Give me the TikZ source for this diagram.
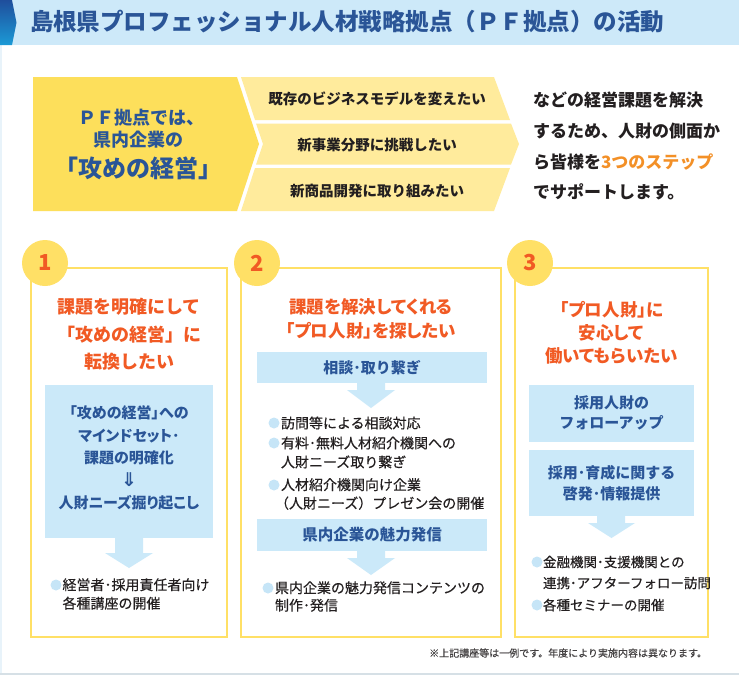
\documentclass[tikz,border=0pt]{standalone}
\usepackage{fontspec}
\setmainfont{Noto Sans CJK JP}
\newfontfamily\dejavu{DejaVu Sans}
\newfontfamily\jpmed[FakeBold=0.35]{Noto Sans CJK JP}
\newfontfamily\jppal[RawFeature=+palt]{Noto Sans CJK JP}
\definecolor{hdr}{HTML}{CDE9F9}
\definecolor{navy}{HTML}{2A5597}
\definecolor{tabtop}{HTML}{1F4E9C}
\definecolor{tabbot}{HTML}{1B9AD6}
\definecolor{ydark}{HTML}{FDDF5B}
\definecolor{ylight}{HTML}{FFEB9C}
\definecolor{ybord}{HTML}{FFE066}
\definecolor{orng}{HTML}{F15A24}
\definecolor{orng2}{HTML}{F39027}
\definecolor{lblue}{HTML}{CBE9F9}
\definecolor{bul}{HTML}{C6E5F7}
\definecolor{ink}{HTML}{231F20}
\definecolor{edge}{HTML}{E8F3FA}
\definecolor{botline}{HTML}{D6E0E6}
\tikzset{
  t/.style={inner sep=0pt, outer sep=0pt},
  lead/.style={t, text=navy, font=\fontsize{18}{18}\selectfont\bfseries},
  strip/.style={t, text=ink, font=\fontsize{14.5}{14.5}\selectfont\bfseries},
  rtext/.style={t, anchor=west, text=ink, font=\fontsize{17}{17}\selectfont\bfseries},
  card/.style={draw=ybord, line width=2pt},
  numc/.style={circle, fill=ybord, minimum size=46pt, inner sep=0pt, text=orng, font=\fontsize{22}{22}\selectfont\bfseries},
  ttl/.style={t, align=center, text=orng},
  bxt/.style={t, align=center, text=navy},
  bl/.style={t, anchor=west, align=left, text=ink},
  dot/.style={fill=bul},
  blk/.style={fill=lblue}
}
\begin{document}
\begin{tikzpicture}[x=1pt,y=-1pt]
\useasboundingbox (0,0) rectangle (739,675);
\fill[white] (0,0) rectangle (739,675);
\fill[edge] (0,45) rectangle (1.5,675);
\fill[botline] (0,673) rectangle (739,675);
% header
\fill[hdr] (0,0) rectangle (739,45);
\shade[top color=tabtop, bottom color=tabbot] (0,0) -- (12,0) -- (16.5,22.5) -- (12,45) -- (0,45) -- cycle;
\node[t, anchor=west, text=navy, font=\fontsize{23.5}{23.5}\selectfont\bfseries] (title) at (30,21.5) {島根県プロフェッショナル人材戦略拠点（ＰＦ拠点）の活動};
% top banner
\fill[ydark] (33,77) -- (237,77) -- (259,144) -- (237,211) -- (33,211) -- cycle;
\fill[ylight] (241,77) -- (494,77) -- (510,120) -- (255,120) -- cycle;
\fill[ylight] (256,123.5) -- (511,123.5) -- (519,144) -- (511,164.5) -- (256,164.5) -- (263,144) -- cycle;
\fill[ylight] (255,168) -- (510,168) -- (494,211) -- (241,211) -- cycle;
\node[lead] (pf1) at (141,118) {ＰＦ拠点では、};
\node[lead] (pf2) at (138,140) {県内企業の};
\node[lead, font=\fontsize{24}{24}\selectfont\bfseries] (pf3) at (138,168) {「攻めの経営」};
\node[strip] (s1) at (377,99) {既存のビジネスモデルを変えたい};
\node[strip] (s2) at (377,145) {新事業分野に挑戦したい};
\node[strip] (s3) at (377,191) {新商品開発に取り組みたい};
\node[rtext] (r1) at (533,100) {などの経営課題を解決};
\node[rtext] (r2) at (533,131) {するため、人財の側面か};
\node[rtext] (r3) at (533,162) {ら皆様を{\color{orng2}3つのステップ}};
\node[rtext] (r4) at (533,192) {でサポートします。};
% cards
\draw[card] (31,268) rectangle (227,637);
\draw[card] (241,268) rectangle (501,637);
\draw[card] (515,268) rectangle (708,637);
\node[numc] (n1) at (45,263) {1};
\node[numc] (n2) at (257,263) {2};
\node[numc] (n3) at (530,263) {3};
% card 1
\node[ttl, font=\fontsize{18}{27.5}\selectfont\bfseries] (t1) at (129,334.5) {課題を明確にして\\「攻めの経営」に\\転換したい};
\fill[blk] (45,385) rectangle (213,538);
\fill[blk] (115,537.5) -- (143,537.5) -- (143,553) -- (153,553) -- (129,568) -- (105,553) -- (115,553) -- cycle;
\node[bxt, font=\jppal\fontsize{15}{22.5}\selectfont\bfseries] (b1) at (129,458) {「攻めの経営」への\\マインドセット･\\課題の明確化\\{\dejavu\bfseries\fontsize{19}{19}\selectfont ⇓}\\人財ニーズ掘り起こし};
\fill[dot] (56,585) circle (5.5);
\node[bl, font=\jpmed\fontsize{14}{18.5}\selectfont] (c1a) at (62.5,594) {経営者･採用責任者向け\\各種講座の開催};
% card 2
\node[ttl, font=\jppal\fontsize{17.5}{24}\selectfont\bfseries] (t2) at (371,319) {課題を解決してくれる\\「プロ人財」を探したい};
\fill[blk] (257,352) rectangle (487,383);
\fill[blk] (357,382.5) -- (385,382.5) -- (385,390) -- (395,390) -- (371,408) -- (347,390) -- (357,390) -- cycle;
\node[bxt, font=\fontsize{15}{15}\selectfont\bfseries] (b2) at (372,367.5) {相談･取り繋ぎ};
\fill[dot] (274,423) circle (5.5);
\fill[dot] (274,443) circle (5.5);
\fill[dot] (274,485) circle (5.5);
\node[bl, font=\jpmed\fontsize{14}{19}\selectfont] (c2a) at (281,423) {訪問等による相談対応};
\node[bl, font=\jpmed\fontsize{14}{19}\selectfont] (c2b) at (281,452.5) {有料･無料人材紹介機関への\\人財ニーズ取り繋ぎ};
\node[bl, font=\jpmed\fontsize{14}{18.5}\selectfont] (c2c) at (281,494) {人材紹介機関向け企業\\\kern-6pt（人財ニーズ）プレゼン会の開催};
\fill[blk] (257,519) rectangle (487,551);
\fill[blk] (357,550.5) -- (385,550.5) -- (385,558) -- (395,558) -- (371,575) -- (347,558) -- (357,558) -- cycle;
\node[bxt, font=\fontsize{15.5}{15.5}\selectfont\bfseries] (b3) at (372,535) {県内企業の魅力発信};
\fill[dot] (268,588) circle (5.5);
\node[bl, font=\jpmed\fontsize{14}{17.5}\selectfont] (c2d) at (275,596.5) {県内企業の魅力発信コンテンツの\\制作･発信};
% card 3
\node[ttl, font=\jppal\fontsize{17.5}{23}\selectfont\bfseries] (t3) at (611.5,333) {「プロ人財」に\\安心して\\働いてもらいたい};
\fill[blk] (529,385) rectangle (694,442);
\node[bxt, font=\fontsize{15}{20}\selectfont\bfseries] (b4) at (611.5,413) {採用人財の\\フォローアップ};
\fill[blk] (529,450) rectangle (694,516);
\fill[blk] (597,515.5) -- (625,515.5) -- (625,523) -- (635,523) -- (611.5,538) -- (588,523) -- (597,523) -- cycle;
\node[bxt, font=\fontsize{15}{20.5}\selectfont\bfseries] (b5) at (611.5,483) {採用･育成に関する\\啓発･情報提供};
\fill[dot] (537,562) circle (5.5);
\fill[dot] (537,605) circle (5.5);
\node[bl, font=\jpmed\fontsize{13.5}{21}\selectfont] (c3a) at (543,572.5) {金融機関･支援機関との\\連携･アフターフォロー訪問};
\node[bl, font=\jpmed\fontsize{13.5}{13.5}\selectfont] (c3b) at (543,605) {各種セミナーの開催};
% footnote
\node[t, anchor=east, text=ink!85, font=\jpmed\fontsize{10}{10}\selectfont] (fn) at (707,653) {※上記講座等は一例です。年度により実施内容は異なります。};
\end{tikzpicture}
\end{document}
